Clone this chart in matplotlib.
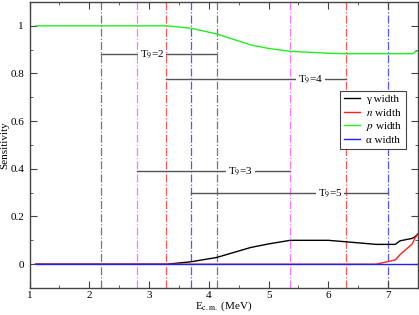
import matplotlib
matplotlib.use('Agg')
import matplotlib.pyplot as plt
from matplotlib.ticker import MultipleLocator

plt.rcParams['font.family'] = ['Liberation Serif', 'DejaVu Serif']
plt.rcParams['mathtext.fontset'] = 'stix'

# sensitivity curves
energy = [1.1, 2.2, 2.8, 3.3, 3.7, 4.13, 4.7, 5.0, 5.36, 6.0, 6.29, 6.8, 7.0, 7.12, 7.2, 7.3, 7.4, 7.45, 7.5]
gamma_w = [0, 0, 0, 0, 0.01, 0.028, 0.07, 0.085, 0.10, 0.10, 0.094, 0.083, 0.083, 0.083, 0.098, 0.103, 0.108, 0.115, 0.127]
n_w = [0, 0, 0, 0, 0, 0, 0, 0, 0, 0, 0, 0, 0.011, 0.018, 0.04, 0.062, 0.084, 0.11, 0.125]
p_w = [1.0, 1.0, 1.0, 1.0, 0.99, 0.966, 0.92, 0.905, 0.893, 0.885, 0.883, 0.883, 0.883, 0.883, 0.883, 0.883, 0.883, 0.89, 0.895]
alpha_w = [0] * len(energy)

# Gamow windows
temps = ['2', '3', '4', '5']
win_lo = [2.2, 2.8, 3.28, 3.7]
win_hi = [4.13, 5.36, 6.29, 7.0]
bar_y = [0.88, 0.39, 0.776, 0.298]
label_x = [3.05, 4.53, 5.7, 6.03]
win_colors = ['#777777', '#ff77ff', '#ff5555', '#5555ff']

fig = plt.figure(figsize=(4.19, 3.15), dpi=100)
ax = fig.add_axes([0.0706, 0.0857, 0.927, 0.908])

for lo, hi, c in zip(win_lo, win_hi, win_colors):
    ax.axvline(lo, color=c, ls='-.', lw=0.9, zorder=1)
    ax.axvline(hi, color=c, ls='-.', lw=0.9, zorder=1)

for t, lo, hi, y, lx in zip(temps, win_lo, win_hi, bar_y, label_x):
    ax.plot([lo, hi], [y, y], color='#555555', lw=1, zorder=2)
    ax.text(lx, y, 'T$_{9}$=' + t, fontsize=8, ha='center', va='center', zorder=3,
            bbox=dict(facecolor='white', edgecolor='none', pad=1.2))

ax.plot(energy, gamma_w, color='black', lw=1, label='\u03b3 width', zorder=4)
ax.plot(energy, n_w, color='#ff2020', lw=1, label='$n$ width', zorder=4)
ax.plot(energy, p_w, color='#22ee22', lw=1, label='$p$ width', zorder=4)
ax.plot(energy, alpha_w, color='#2020ff', lw=1, label='\u03b1 width', zorder=4)

ax.set_xlim(1, 7.5)
ax.set_ylim(-0.1, 1.1)
ax.xaxis.set_major_locator(MultipleLocator(1))
ax.xaxis.set_minor_locator(MultipleLocator(0.5))
ax.yaxis.set_minor_locator(MultipleLocator(0.1))
ax.set_yticks([0, 0.2, 0.4, 0.6, 0.8, 1.0])
ax.set_yticklabels(['0', '0.2', '0.4', '0.6', '0.8', '1'])
ax.tick_params(which='both', direction='in', top=True, right=True, labelsize=8, color='#444444')
ax.tick_params(axis='x', pad=2)
ax.tick_params(axis='y', pad=4)
ax.tick_params(which='major', length=5)
ax.tick_params(which='minor', length=2.5)
for s in ax.spines.values():
    s.set_color('#444444')
    s.set_linewidth(1)

ax.set_xlabel('E$_{\\rm c.m.}$ (MeV)', fontsize=8, labelpad=0)
ax.set_ylabel('Sensitivity', fontsize=8, labelpad=1)

leg = ax.legend(loc='upper right', bbox_to_anchor=(0.97, 0.69), fontsize=8, fancybox=False,
                edgecolor='#444444', framealpha=1, handlelength=1.5, handletextpad=0.5,
                labelspacing=0.2, borderpad=0.35, borderaxespad=0)
leg.get_frame().set_linewidth(0.8)

fig.savefig('out.png', dpi=100)
